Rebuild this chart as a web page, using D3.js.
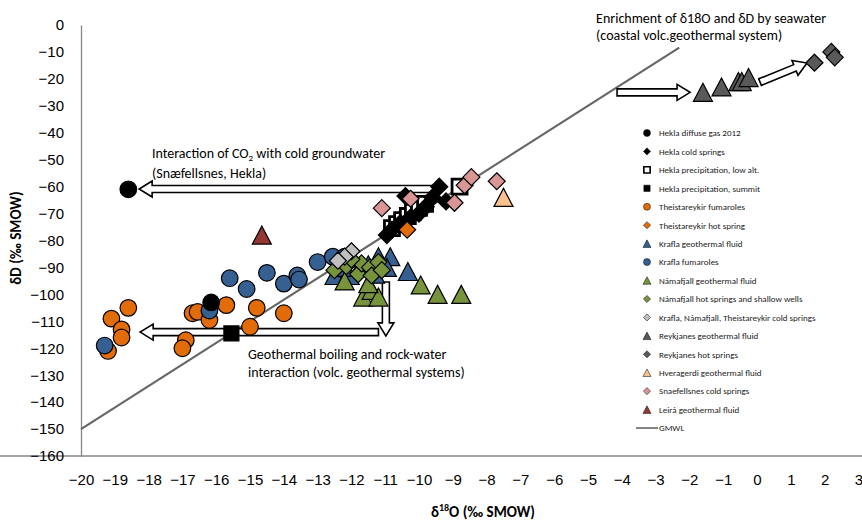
<!DOCTYPE html>
<html>
<head>
<meta charset="utf-8">
<script src="https://cdn.jsdelivr.net/npm/d3@7"></script>
<style>
  body { margin: 0; background: #fff; }
  svg { font-family: Carlito, Calibri, Lato, "Open Sans", sans-serif; }
</style>
</head>
<body>
<div id="chart"></div>
<script>
var width = 862
var height = 521

// data: [d18O, dD]
var heklaGas = [[-18.6, -61], [-16.15, -103]]
var heklaCold = [[-9.4, -60], [-9.6, -64], [-10.4, -63.5], [-9.2, -65.5], [-9.8, -67.5], [-10.0, -70],
                 [-10.25, -71.5], [-10.55, -73.5], [-10.8, -76], [-10.95, -78]]
var heklaLow = [[-8.8, -60], [-10.8, -75.4], [-10.65, -73.9], [-10.5, -72.4], [-10.33, -70.9],
                [-10.18, -69.4], [-10.0, -67.9], [-9.82, -66.4]]
var heklaSummit = [[-15.55, -114.5]]
var theistFum = [[-18.6, -105], [-19.1, -109], [-18.8, -113], [-18.8, -116], [-19.2, -121], [-16.9, -117],
                 [-17.0, -120], [-16.7, -107], [-16.55, -106.5], [-16.2, -109.5], [-15.7, -104],
                 [-14.8, -105], [-14.0, -107], [-15.0, -112]]
var theistHot = [[-10.35, -76]]
var kraflaGeo = [[-10.33, -91.5], [-10.85, -86], [-11.2, -86], [-10.95, -90], [-11.5, -89], [-11.75, -90],
                 [-12.5, -93], [-12.05, -93], [-11.3, -92.5], [-12.25, -90]]
var kraflaFum = [[-19.3, -119], [-16.2, -106], [-15.6, -94], [-15.1, -98], [-14.5, -92], [-14.0, -96],
                 [-13.6, -93], [-13.55, -94.5], [-13.0, -88], [-12.55, -86], [-12.2, -86]]
var namaGeo = [[-9.95, -96.5], [-9.45, -100], [-8.75, -100], [-11.65, -101], [-11.4, -98.5], [-12.2, -95],
               [-11.2, -101], [-11.5, -96]]
var namaHot = [[-12.5, -91], [-12.15, -89.5], [-11.8, -92.5], [-11.7, -88.5], [-11.45, -90], [-11.4, -93],
               [-11.2, -88], [-11.1, -91], [-12.0, -87]]
var coldSprings = [[-12.0, -84], [-12.2, -86], [-12.4, -87.5]]
var reykGeo = [[-1.6, -25], [-1.05, -23], [-0.55, -21], [-0.45, -21], [-0.25, -19.5]]
var reykHot = [[1.7, -14], [2.2, -10], [2.3, -12]]
var hveragerdi = [[-7.5, -64]]
var snaefellsnes = [[-11.1, -68], [-10.25, -64.5], [-8.95, -66], [-8.65, -59.5], [-8.45, -56.5], [-7.7, -58]]
var leira = [[-14.65, -78]]
var gmwl = [[-20, -150], [-2.3, -8.4]]

var xTicks = d3.range(-20, 4, 1)
var yTicks = d3.range(-160, 1, 10)

// arrows [from, to] in data units
var arrows = [
    [[-9.38, -60.9], [-18.28, -60.9]],
    [[-11.2, -114], [-18.25, -114]],
    [[-10.98, -95.4], [-10.98, -115.4]],
    [[-4.14, -25], [-1.98, -25]],
    [[0.09, -21.2], [1.48, -14.1]]
]

var series = [
    {name: "Hekla diffuse  gas 2012", data: heklaGas, shape: "circle", fill: "#000000"},
    {name: "Hekla cold springs", data: heklaCold, shape: "diamond", fill: "#000000"},
    {name: "Hekla precipitation, low alt.", data: heklaLow, shape: "square", fill: "#ffffff"},
    {name: "Hekla precipitation, summit", data: heklaSummit, shape: "square", fill: "#000000"},
    {name: "Theistareykir fumaroles", data: theistFum, shape: "circle", fill: "#E36C0A"},
    {name: "Theistareykir hot spring", data: theistHot, shape: "diamond", fill: "#E36C0A"},
    {name: "Krafla geothermal fluid", data: kraflaGeo, shape: "triangle", fill: "#376092"},
    {name: "Krafla fumaroles", data: kraflaFum, shape: "circle", fill: "#376092"},
    {name: "Námafjall  geothermal fluid", data: namaGeo, shape: "triangle", fill: "#77933C"},
    {name: "Námafjall  hot springs and shallow wells", data: namaHot, shape: "diamond", fill: "#77933C"},
    {name: "Krafla, Námafjall,  Theistareykir cold springs", data: coldSprings, shape: "diamond", fill: "#BFBFBF"},
    {name: "Reykjanes geothermal fluid", data: reykGeo, shape: "triangle", fill: "#595959"},
    {name: "Reykjanes hot springs", data: reykHot, shape: "diamond", fill: "#595959"},
    {name: "Hveragerdi geothermal fluid", data: hveragerdi, shape: "triangle", fill: "#FAC090"},
    {name: "Snaefellsnes cold springs", data: snaefellsnes, shape: "diamond", fill: "#D99694"},
    {name: "Leirá geothermal fluid", data: leira, shape: "triangle", fill: "#953735"}
]
// draw order (precip squares sit under the cold spring diamonds, gas on top)
var drawOrder = [2, 1, 3, 4, 5, 6, 7, 8, 9, 10, 11, 12, 13, 14, 15, 0]

function shapePath(shape, k) {
    var h
    if (shape == "circle") { h = 8.3 * k; return "M" + h + ",0A" + h + "," + h + " 0 1 1 " + (-h) + ",0A" + h + "," + h + " 0 1 1 " + h + ",0Z" }
    if (shape == "diamond") { h = 8.5 * k; return "M0," + (-h) + "L" + h + ",0L0," + h + "L" + (-h) + ",0Z" }
    if (shape == "square") { h = 7.5 * k; return "M" + (-h) + "," + (-h) + "H" + h + "V" + h + "H" + (-h) + "Z" }
    var w = 9.5 * k, t = 9 * k
    return "M0," + (-t) + "L" + w + "," + t + "L" + (-w) + "," + t + "Z"
}

var svg = d3.select("#chart").append("svg").attr("width", width).attr("height", height)

var xScale = d3.scaleLinear().domain([-20, 3]).range([81, 858.4])
var yScale = d3.scaleLinear().domain([-160, 0]).range([456, 25])

// axes
var xAxis = svg.append("g").attr("transform", "translate(0,456)")
    .call(d3.axisBottom(xScale).tickValues(xTicks).tickSize(0).tickPadding(18).tickFormat(d3.format("d")))
var yAxis = svg.append("g").attr("transform", "translate(81,0)")
    .call(d3.axisLeft(yScale).tickValues(yTicks).tickSize(0).tickPadding(17).tickFormat(d3.format("d")))
svg.selectAll(".domain").attr("stroke", "#868686").attr("stroke-width", 1.3)
xAxis.select(".domain").attr("d", "M0,0H862")
svg.selectAll(".tick text").attr("font-size", 15).attr("fill", "#000").style("font-family", "inherit")

// GMWL
svg.append("path")
    .attr("d", d3.line().x(d => xScale(d[0])).y(d => yScale(d[1]))(gmwl))
    .attr("stroke", "#666666").attr("stroke-width", 2.2).attr("fill", "none")

// hollow block arrows
var hw = 3.5, hh = 8, hl = 13
svg.selectAll(".arrow").data(arrows).enter().append("path")
    .attr("class", "arrow")
    .attr("d", function(a) {
        var x0 = xScale(a[0][0]), y0 = yScale(a[0][1]), x1 = xScale(a[1][0]), y1 = yScale(a[1][1])
        var len = Math.hypot(x1 - x0, y1 - y0)
        var pts = [[0, -hw], [len - hl, -hw], [len - hl, -hh], [len, 0], [len - hl, hh], [len - hl, hw], [0, hw]]
        return "M" + pts.map(p => p.join(",")).join("L") + "Z"
    })
    .attr("transform", function(a) {
        var x0 = xScale(a[0][0]), y0 = yScale(a[0][1]), x1 = xScale(a[1][0]), y1 = yScale(a[1][1])
        var ang = Math.atan2(y1 - y0, x1 - x0) * 180 / Math.PI
        return "translate(" + x0 + "," + y0 + ") rotate(" + ang + ")"
    })
    .attr("fill", "#fff").attr("stroke", "#000").attr("stroke-width", 1.6)

// markers
drawOrder.forEach(function(i) {
    var s = series[i]
    svg.append("g").selectAll("path").data(s.data).enter().append("path")
        .attr("d", shapePath(s.shape, 1))
        .attr("transform", d => "translate(" + xScale(d[0]) + "," + yScale(d[1]) + ")")
        .attr("fill", s.fill)
        .attr("stroke", "#000")
        .attr("stroke-width", s.name.indexOf("low alt") >= 0 ? 2.8 : 1.2)
})

// annotations
var note = svg.append("g").attr("font-size", 14).attr("fill", "#000")
note.append("text").attr("x", xScale(-4.76)).attr("y", 23).text("Enrichment of δ18O and δD by seawater")
note.append("text").attr("x", xScale(-4.76)).attr("y", 40).text("(coastal volc.geothermal system)")
var co2 = note.append("text").attr("x", xScale(-17.9)).attr("y", 158)
co2.append("tspan").text("Interaction of CO")
co2.append("tspan").attr("font-size", 9).attr("dy", 3).text("2")
co2.append("tspan").attr("dy", -3).text(" with cold groundwater")
note.append("text").attr("x", xScale(-17.9)).attr("y", 178).text("(Snæfellsnes, Hekla)")
note.append("text").attr("x", xScale(-15.06)).attr("y", 359).text("Geothermal boiling and rock-water")
note.append("text").attr("x", xScale(-15.06)).attr("y", 377).text("interaction (volc. geothermal systems)")

// axis titles
svg.append("text").attr("transform", "translate(21,238) rotate(-90)")
    .attr("text-anchor", "middle").attr("font-size", 15).attr("font-weight", "bold")
    .text("δD (‰ SMOW)")
var xt = svg.append("text").attr("x", 483).attr("y", 517)
    .attr("text-anchor", "middle").attr("font-size", 15).attr("font-weight", "bold")
xt.append("tspan").text("δ")
xt.append("tspan").attr("font-size", 10).attr("dy", -6).text("18")
xt.append("tspan").attr("dy", 6).text("O (‰ SMOW)")

// legend
var legend = svg.append("g").attr("transform", "translate(647,133)")
var rowH = 18.44
series.forEach(function(s, i) {
    var row = legend.append("g").attr("transform", "translate(0," + (i * rowH) + ")")
    row.append("path").attr("d", shapePath(s.shape, 0.42))
        .attr("fill", s.fill).attr("stroke", "#000")
        .attr("stroke-width", s.fill == "#ffffff" ? 1.6 : 0.5)
    row.append("text").attr("x", 12).attr("y", 3.3).attr("font-size", 9).attr("fill", "#222").text(s.name)
})
var gl = legend.append("g").attr("transform", "translate(0," + (16 * rowH) + ")")
gl.append("line").attr("x1", -11).attr("x2", 11).attr("stroke", "#666").attr("stroke-width", 1.6)
gl.append("text").attr("x", 12).attr("y", 3.3).attr("font-size", 9).attr("fill", "#222").text("GMWL")
</script>
</body>
</html>
